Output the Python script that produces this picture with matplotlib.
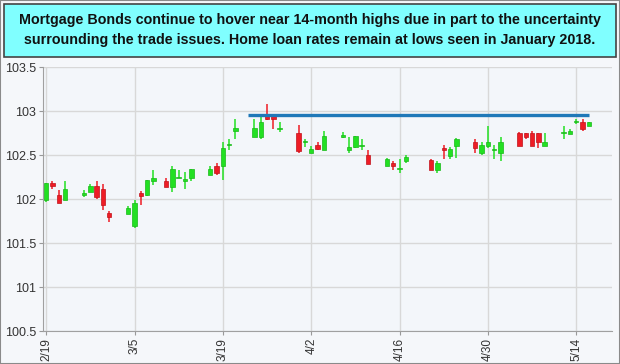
import numpy as np
import pandas as pd
import matplotlib
matplotlib.use('Agg')
import matplotlib.pyplot as plt
import matplotlib.dates as mdates
from matplotlib.patches import Rectangle

# candle dates as they sit on the chart's date axis
dates = ['2018-02-19', '2018-02-20', '2018-02-21', '2018-02-22',
         '2018-02-25', '2018-02-26', '2018-02-27', '2018-02-28', '2018-03-01',
         '2018-03-04', '2018-03-05', '2018-03-06', '2018-03-07', '2018-03-08',
         '2018-03-10', '2018-03-11', '2018-03-12', '2018-03-13', '2018-03-14',
         '2018-03-17', '2018-03-18', '2018-03-19', '2018-03-20', '2018-03-21',
         '2018-03-24', '2018-03-25', '2018-03-26', '2018-03-27', '2018-03-28',
         '2018-03-31', '2018-04-01', '2018-04-02', '2018-04-03', '2018-04-04',
         '2018-04-07', '2018-04-08', '2018-04-09', '2018-04-10', '2018-04-11',
         '2018-04-14', '2018-04-15', '2018-04-16', '2018-04-17',
         '2018-04-21', '2018-04-22', '2018-04-23', '2018-04-24', '2018-04-25',
         '2018-04-28', '2018-04-29', '2018-04-30', '2018-05-01', '2018-05-02',
         '2018-05-05', '2018-05-06', '2018-05-07', '2018-05-08', '2018-05-09',
         '2018-05-12', '2018-05-13', '2018-05-14', '2018-05-15', '2018-05-16']

opens = [101.99, 102.185, 102.05, 101.99,
         102.051, 102.08, 102.15, 102.11, 101.84,
         101.83, 101.69, 102.065, 102.05, 102.21,
         102.20, 102.14, 102.24, 102.21, 102.235,
         102.27, 102.375, 102.375, 102.61, 102.77,
         102.71, 102.70, 102.955, 102.955, 102.80,
         102.75, 102.65, 102.525, 102.615, 102.555,
         102.71, 102.555, 102.59, 102.60, 102.50,
         102.375, 102.405, 102.34, 102.435,
         102.44, 102.33, 102.58, 102.49, 102.605,
         102.65, 102.525, 102.60, 102.555, 102.525,
         102.755, 102.745, 102.745, 102.745, 102.60,
         102.745, 102.74, 102.875, 102.88, 102.835]

highs = [102.18, 102.21, 102.10, 102.21,
         102.10, 102.17, 102.21, 102.17, 101.86,
         101.92, 101.99, 102.09, 102.22, 102.33,
         102.235, 102.375, 102.33, 102.31, 102.34,
         102.375, 102.405, 102.65, 102.68, 102.905,
         102.905, 102.94, 103.08, 102.955, 102.87,
         102.84, 102.68, 102.60, 102.65, 102.775,
         102.765, 102.71, 102.715, 102.68, 102.56,
         102.47, 102.43, 102.46, 102.50,
         102.45, 102.435, 102.615, 102.59, 102.69,
         102.68, 102.65, 102.83, 102.615, 102.71,
         102.76, 102.75, 102.77, 102.75, 102.745,
         102.83, 102.80, 102.905, 102.905, 102.88]

lows = [101.97, 102.11, 101.96, 101.99,
        102.02, 102.08, 102.00, 101.875, 101.735,
        101.83, 101.67, 101.93, 102.03, 102.16,
        102.14, 102.08, 102.235, 102.11, 102.21,
        102.27, 102.27, 102.22, 102.56, 102.68,
        102.70, 102.68, 102.90, 102.80, 102.765,
        102.525, 102.59, 102.525, 102.555, 102.555,
        102.69, 102.525, 102.58, 102.56, 102.40,
        102.375, 102.33, 102.30, 102.405,
        102.33, 102.30, 102.46, 102.46, 102.465,
        102.525, 102.50, 102.575, 102.46, 102.435,
        102.60, 102.68, 102.60, 102.575, 102.60,
        102.68, 102.74, 102.85, 102.775, 102.835]

closes = [102.18, 102.15, 101.96, 102.11,
          102.057, 102.15, 102.02, 101.93, 101.79,
          101.90, 101.96, 102.03, 102.22, 102.24,
          102.14, 102.34, 102.25, 102.22, 102.34,
          102.34, 102.29, 102.58, 102.615, 102.81,
          102.81, 102.88, 102.905, 102.905, 102.805,
          102.545, 102.655, 102.565, 102.57, 102.715,
          102.715, 102.59, 102.715, 102.605, 102.40,
          102.45, 102.37, 102.345, 102.475,
          102.33, 102.405, 102.555, 102.565, 102.685,
          102.575, 102.615, 102.65, 102.56, 102.65,
          102.60, 102.71, 102.60, 102.65, 102.65,
          102.75, 102.77, 102.88, 102.80, 102.88]

# resistance line
line_dates = ['2018-03-23', '2018-05-16']
line_level = [102.96, 102.96]

tick_dates = ['2018-02-19', '2018-03-05', '2018-03-19', '2018-04-02',
              '2018-04-16', '2018-04-30', '2018-05-14']
tick_labels = ['2/19', '3/5', '3/19', '4/2', '4/16', '4/30', '5/14']
y_ticks = [100.5, 101, 101.5, 102, 102.5, 103, 103.5]
y_labels = ['100.5', '101', '101.5', '102', '102.5', '103', '103.5']

title_lines = ['Mortgage Bonds continue to hover near 14-month highs due in part to the uncertainty',
               'surrounding the trade issues. Home loan rates remain at lows seen in January 2018.']

plt.rcParams['font.family'] = ['Liberation Sans', 'DejaVu Sans']

fig = plt.figure(figsize=(6.2, 3.64), dpi=100)
fig.patch.set_facecolor('#f5f7fa')
ax = fig.add_axes([43 / 620, 1 - 331 / 364, (612 - 43) / 620, (331 - 67) / 364])
ax.set_facecolor('#f3f6fa')

x = mdates.date2num(pd.to_datetime(dates))
o = np.array(opens)
h = np.array(highs)
l = np.array(lows)
c = np.array(closes)
up = c >= o

green = '#22e022'
green_edge = '#18b818'
red = '#ee1c25'
red_edge = '#c0121a'

for i in range(len(x)):
    col = green if up[i] else red
    edge = green_edge if up[i] else red_edge
    ax.vlines(x[i], l[i], h[i], color=col, linewidth=1.1, zorder=3)
    bottom = min(o[i], c[i])
    height = max(abs(c[i] - o[i]), 0.012)
    ax.bar(x[i], height, bottom=bottom, width=0.7, color=col,
           edgecolor=edge, linewidth=0.5, zorder=4)

lx = mdates.date2num(pd.to_datetime(line_dates))
ax.plot(lx, line_level, color='#1f78b8', linewidth=2.4, solid_capstyle='butt', zorder=5)

ax.set_xlim(mdates.date2num(pd.Timestamp('2018-02-18 12:00')),
            mdates.date2num(pd.Timestamp('2018-05-19 16:00')))
ax.set_ylim(100.5, 103.5)
ax.set_xticks(mdates.date2num(pd.to_datetime(tick_dates)))
ax.set_xticklabels(tick_labels, rotation=90, fontsize=8.5, color='#333333')
ax.set_yticks(y_ticks)
ax.set_yticklabels(y_labels, fontsize=9, color='#333333')
ax.tick_params(axis='both', length=3, color='#999999', pad=2)
ax.grid(True, color='#d8d8d8', linewidth=1)
ax.set_axisbelow(True)
for s in ['top', 'right']:
    ax.spines[s].set_visible(False)
ax.spines['left'].set_color('#a0a0a0')
ax.spines['bottom'].set_color('#a0a0a0')

# title box
fig.patches.append(Rectangle((4 / 620, 1 - 57 / 364), 612 / 620, 53 / 364,
                             transform=fig.transFigure, facecolor='#80ffff',
                             edgecolor='#444444', linewidth=1.2, zorder=0))
fig.text(0.5, 1 - 20 / 364, title_lines[0], ha='center', va='center',
         fontsize=10.3, fontweight='bold', color='#111111')
fig.text(0.5, 1 - 40 / 364, title_lines[1], ha='center', va='center',
         fontsize=10.3, fontweight='bold', color='#111111')
fig.patches.append(Rectangle((0, 0), 1, 1, transform=fig.transFigure,
                             facecolor='none', edgecolor='#8a8a8a', linewidth=1.5))

fig.savefig('out.png', dpi=100, facecolor=fig.get_facecolor())
